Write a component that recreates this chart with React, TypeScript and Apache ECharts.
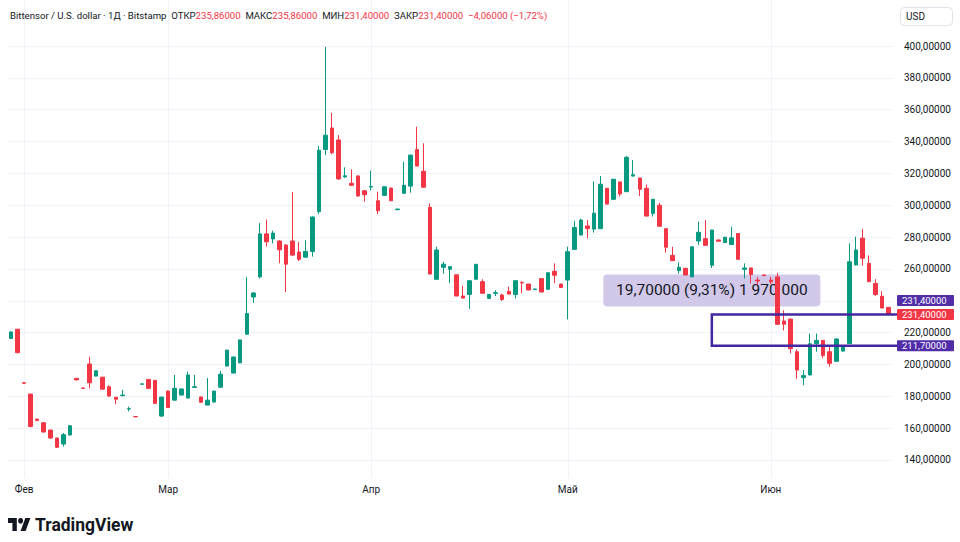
import React, { useEffect, useRef } from "react";
import * as echarts from "echarts";

const UP = "#089981";
const DOWN = "#f23645";
const TEXT = "#131722";
const GRID = "#f0f3fa";
const PURPLE = "#4527a0";
const TAG_PURPLE = "#512da8";
const FONT = "Roboto, 'Noto Sans', sans-serif";

// Candles: [open, close, low, high]
const JAN_FEB: number[][] = [
  [216.3, 220.4, 216, 220.8],
  [222.1, 207.4, 207, 222.4],
  [188.5, 188.2, 188, 188.6],
  [181.4, 161, 160.5, 181.6],
  [165.7, 164.8, 164.5, 165.9],
  [163.4, 157.6, 157.3, 163.6],
  [158.8, 153.8, 153.5, 159],
  [153.8, 148, 147.5, 154],
  [150, 155.9, 148.4, 157],
  [155.7, 161.5, 155.5, 161.8],
  [191.3, 190.3, 190.1, 191.4],
  [185.2, 185, 184.9, 185.3],
  [200.3, 188.5, 185, 204.9],
  [192.7, 196, 192.5, 196.2],
  [192, 184.5, 184.3, 192.2],
  [186, 180.2, 179.6, 186.9],
  [179.4, 178.2, 175, 179.6],
  [180.4, 180.8, 180, 184],
  [172, 172.2, 170.5, 173.5],
  [167.3, 167.1, 167, 167.4],
  [187.6, 187.8, 187.5, 187.9],
  [190.6, 185, 184.8, 190.8],
  [190, 175.6, 175.3, 190.2],
  [167.6, 179.5, 167, 179.7],
];
const MARCH: number[][] = [
  [183.3, 173, 172.8, 183.5],
  [177.6, 185, 177.4, 193.4],
  [180.8, 184.6, 180.6, 184.8],
  [178.9, 193.4, 178.7, 195.5],
  [185.6, 186, 185.4, 193.4],
  [179.6, 176.3, 176.1, 179.8],
  [174.5, 177.6, 174.3, 191.5],
  [176.4, 183.3, 176.2, 183.5],
  [185.7, 193.9, 185.5, 196],
  [199, 209, 198.8, 209.2],
  [194.6, 204.7, 194.4, 204.9],
  [201, 215.4, 200.8, 215.6],
  [219, 232, 218.8, 255],
  [242.4, 244.9, 238.6, 245.5],
  [255, 282, 254, 288.8],
  [282, 277, 274, 291],
  [278.8, 282.5, 276, 284],
  [277.5, 272, 263.6, 278],
  [275, 263, 245.5, 275.5],
  [277.5, 268.7, 268, 308.3],
  [270.6, 266, 265, 277],
  [267.4, 271, 267, 278],
  [271, 292.6, 267.7, 293],
  [296, 334.6, 294.5, 337.2],
  [335, 344, 331.5, 399.4],
  [348.5, 333, 332, 358],
  [341, 316.5, 316, 344],
  [317.8, 318.5, 317.3, 323.8],
  [313.8, 312.5, 312.3, 322.5],
  [318.4, 305.8, 305.5, 318.8],
  [309.1, 306.6, 302.2, 309.3],
];
const APRIL: number[][] = [
  [311.4, 311.8, 309.4, 321.7],
  [302.8, 296.6, 294.5, 308.5],
  [306.2, 311.6, 306, 311.8],
  [310.8, 302.8, 302.6, 311],
  [297.2, 297.6, 297, 297.8],
  [307.5, 312.5, 307.3, 327.3],
  [312, 331.5, 307.9, 331.7],
  [335, 324.6, 324.4, 349.3],
  [321.3, 311.3, 311.1, 338.9],
  [298.7, 256.8, 256.6, 301.2],
  [253.5, 271.9, 253.3, 274],
  [261, 263, 257, 264.5],
  [259.8, 261.4, 251, 261.6],
  [256.3, 243, 242.8, 256.5],
  [243, 241.7, 241.5, 249.3],
  [244, 252.6, 235, 252.8],
  [253.5, 262.9, 253.3, 263.1],
  [252, 244.7, 244.5, 253.5],
  [241.5, 244, 241.3, 244.2],
  [244.7, 245.1, 242.9, 246.6],
  [243.6, 240.8, 239.8, 244.5],
  [245.9, 244.2, 244, 248.9],
  [244, 252.6, 241.5, 252.8],
  [251.6, 251.2, 244.7, 252],
  [250.5, 246.8, 246.6, 250.7],
  [247, 247.4, 246.8, 247.6],
  [253.9, 245.5, 245.3, 254.1],
  [247.2, 257.6, 247, 257.8],
  [258.5, 256, 251, 263.5],
  [250.5, 248.4, 248.2, 250.7],
];
const MAY: number[][] = [
  [253, 270.8, 228.3, 274],
  [272.3, 286, 272, 290.3],
  [281.3, 290.7, 281, 291.5],
  [287, 285.3, 279.2, 290.7],
  [285, 295, 282.8, 315],
  [285.3, 313.2, 285, 318.4],
  [310.6, 300.7, 300.5, 310.8],
  [303.7, 316.3, 303.5, 316.5],
  [314.6, 307.1, 305.5, 314.8],
  [308.5, 330.1, 308.3, 330.9],
  [318.3, 319.2, 318, 328.4],
  [317.1, 310, 305.8, 317.3],
  [310.6, 293.2, 293, 313],
  [294.9, 303.7, 292.9, 303.9],
  [300, 286.8, 286.6, 301.5],
  [285.3, 273.6, 270.2, 285.5],
  [268.5, 265.2, 265, 273.9],
  [258.9, 261, 257, 264],
  [260.4, 256.2, 256, 260.6],
  [255, 273.9, 254.8, 274.1],
  [277.5, 283, 275, 289.7],
  [279, 274.8, 274.6, 290.7],
  [262.3, 284.4, 260.6, 284.6],
  [278.2, 277.4, 277.2, 278.4],
  [276.6, 279.9, 276.4, 280.1],
  [275.3, 279.5, 275.1, 286.5],
  [282.2, 266, 265.8, 282.4],
  [259.8, 260.6, 254, 263.5],
  [260.6, 256.4, 250.9, 260.8],
  [253, 252.4, 250, 255],
  [256.2, 255.8, 255.6, 256.4],
];
const JUNE: number[][] = [
  [253, 252, 250.5, 255],
  [255, 225.2, 225, 257.5],
  [227.3, 225.2, 221.4, 234],
  [228.5, 209.9, 206.9, 228.7],
  [208, 196.5, 191, 209.5],
  [191.7, 193, 187, 196.5],
  [193.4, 213, 193.2, 219.4],
  [213, 215.1, 208, 219.4],
  [215.1, 205.7, 204, 215.3],
  [208, 200.7, 198.6, 212],
  [202, 216, 201.8, 216.5],
  [208.4, 211.1, 208.2, 211.3],
  [213.1, 264.5, 212.9, 276],
  [262.5, 271.9, 262.3, 280.2],
  [279.3, 266.7, 262, 285.2],
  [263.5, 252, 251.8, 268.5],
  [250.9, 244, 243, 253.5],
  [242.8, 235.46, 235.3, 246],
  [235.86, 231.4, 231.4, 235.86],
];

// Dates (Bitstamp has no bars on some February days)
const JAN_DAYS = [30, 31];
const FEB_DAYS = [1, 2, 3, 4, 5, 6, 7, 8, 10, 11, 13, 14, 15, 16, 17, 19, 20, 22, 23, 25, 26, 28];
const MONTH_NAMES: Record<string, string> = { "02": "Фев", "03": "Мар", "04": "Апр", "05": "Май", "06": "Июн" };

// Price range drawing
const RANGE_START = "2025-05-23";
const RANGE_LOW = 211.7;
const RANGE_HIGH = 231.4;
const TICK_SIZE = 0.00001;

const Y_MIN = 120;
const Y_MAX = 420;
const Y_STEP = 20;
const LABEL_MIN = 140;
const LABEL_MAX = 400;

const pad = (n: number) => String(n).padStart(2, "0");
const categories: string[] = [
  ...JAN_DAYS.map((d) => `2025-01-${pad(d)}`),
  ...FEB_DAYS.map((d) => `2025-02-${pad(d)}`),
  ...MARCH.map((_, i) => `2025-03-${pad(i + 1)}`),
  ...APRIL.map((_, i) => `2025-04-${pad(i + 1)}`),
  ...MAY.map((_, i) => `2025-05-${pad(i + 1)}`),
  ...JUNE.map((_, i) => `2025-06-${pad(i + 1)}`),
];
const candles = [...JAN_FEB, ...MARCH, ...APRIL, ...MAY, ...JUNE];

const monthStarts: number[] = categories
  .map((c, i) => (i > 0 && c.slice(5, 7) !== categories[i - 1].slice(5, 7) ? i : -1))
  .filter((i) => i >= 0);

const fmt = (v: number) => v.toFixed(5).replace(".", ",");
const fmtSigned = (v: number) => (v < 0 ? "\u2212" : "") + fmt(Math.abs(v));
const groupInt = (n: number) => String(Math.round(n)).replace(/\B(?=(\d{3})+(?!\d))/g, " ");

export default function App() {
  const ref = useRef<HTMLDivElement>(null);

  useEffect(() => {
    const el = ref.current;
    if (!el) return;
    const chart = echarts.init(el, undefined, { renderer: "svg" });

    const PX_PER_UNIT = 1.5923;
    const gridTop = 46 - (Y_MAX - 400) * PX_PER_UNIT;
    const gridBottom = 460 + (140 - Y_MIN) * PX_PER_UNIT;
    const paneBottom = 478;

    let hiddenValues: number[] = [];

    chart.setOption({
      animation: false,
      backgroundColor: "#ffffff",
      grid: { left: 7.7, top: gridTop, width: 884.25, height: gridBottom - gridTop },
      xAxis: {
        type: "category",
        data: categories,
        boundaryGap: true,
        offset: -(gridBottom - paneBottom),
        axisLine: { show: false },
        axisTick: { show: false },
        splitLine: { show: false },
        axisLabel: {
          interval: (i: number) => monthStarts.includes(i),
          formatter: (v: string) => MONTH_NAMES[v.slice(5, 7)] || "",
          color: TEXT,
          fontSize: 10,
          fontFamily: FONT,
          margin: 6,
        },
      },
      yAxis: {
        type: "value",
        position: "right",
        min: Y_MIN,
        max: Y_MAX,
        interval: Y_STEP,
        axisLine: { show: false },
        axisTick: { show: false },
        axisLabel: {
          showMinLabel: false,
          showMaxLabel: false,
          margin: 12,
          color: TEXT,
          fontSize: 10,
          fontFamily: FONT,
          formatter: (v: number) => (v < LABEL_MIN || v > LABEL_MAX || hiddenValues.includes(v) ? "" : fmt(v)),
        },
        splitLine: { show: true, showMinLine: false, showMaxLine: false, lineStyle: { color: GRID, width: 1 } },
      },
      series: [
        {
          type: "candlestick",
          data: candles,
          barWidth: 4,
          z: 3,
          itemStyle: {
            color: UP,
            color0: DOWN,
            borderColor: UP,
            borderColor0: DOWN,
            borderWidth: 1,
          },
        },
      ],
    });

    const px = (idx: number, v: number) => chart.convertToPixel({ gridIndex: 0 }, [idx, v]) as number[];

    const lastIdx = candles.length - 1;
    const last = candles[lastIdx];
    const prevClose = candles[lastIdx - 1][1];
    const chg = last[1] - prevClose;
    const chgPct = (chg / prevClose) * 100;

    const yClose = px(lastIdx, last[1])[1];
    const yHigh = px(lastIdx, RANGE_HIGH)[1];
    const yLow = px(lastIdx, RANGE_LOW)[1];
    const xStart = px(categories.indexOf(RANGE_START), RANGE_HIGH)[0];
    const xRight = 897;
    const tagYs = [yClose - 14, yClose, yLow];

    // axis labels that are covered by the price tags
    const tickVals: number[] = [];
    for (let v = LABEL_MIN; v <= LABEL_MAX; v += Y_STEP) tickVals.push(v);
    hiddenValues = tickVals.filter((v) => tagYs.some((ty) => Math.abs(px(0, v)[1] - ty) < 9));

    const diff = RANGE_HIGH - RANGE_LOW;
    const pct = (diff / RANGE_LOW) * 100;
    const rangeLabel = `${fmt(diff)} (${pct.toFixed(2).replace(".", ",")}%) ${groupInt(diff / TICK_SIZE)}`;

    const vGrid = monthStarts.map((i) => {
      const x = Math.round(px(i, 200)[0]) + 0.5;
      return { type: "line", z: 0, silent: true, shape: { x1: x, y1: 0, x2: x, y2: paneBottom }, style: { stroke: GRID, lineWidth: 1 } };
    });

    const tag = (y: number, text: string, fill: string) => ({
      type: "group",
      z: 50,
      children: [
        { type: "rect", z: 50, shape: { x: xRight, y: y - 5.5, width: 57, height: 11, r: 1 }, style: { fill } },
        {
          type: "text",
          z: 51,
          x: xRight + 5,
          y: y,
          style: { text, fill: "#ffffff", fontSize: 9.5, lineHeight: 10, fontFamily: FONT, verticalAlign: "middle", align: "left" },
        },
      ],
    });

    const boxW = 217;
    const boxH = 32;
    const boxBottom = yHigh - 8;

    const header =
      `{n|Bittensor / U.S. dollar · 1Д · Bitstamp}  ` +
      `{n|ОТКР}{r|${fmt(last[0])}}  {n|МАКС}{r|${fmt(last[3])}}  {n|МИН}{r|${fmt(last[2])}}  ` +
      `{n|ЗАКР}{r|${fmt(last[1])}}  {r|${fmtSigned(chg)} (${chgPct < 0 ? "\u2212" : ""}${Math.abs(chgPct).toFixed(2).replace(".", ",")}%)}`;

    chart.setOption({
      yAxis: {
        axisLabel: {
          formatter: (v: number) => (v < LABEL_MIN || v > LABEL_MAX || hiddenValues.includes(v) ? "" : fmt(v)),
        },
      },
      graphic: {
        elements: [
          ...vGrid,
          {
            type: "rect",
            z: 1,
            silent: true,
            shape: { x: xStart - boxW / 2, y: boxBottom - boxH, width: boxW, height: boxH, r: 4 },
            style: { fill: "#d1c8ea" },
          },
          {
            type: "text",
            z: 2,
            silent: true,
            x: xStart,
            y: boxBottom - boxH / 2,
            style: { text: rangeLabel, fill: TEXT, fontSize: 15.5, fontFamily: FONT, align: "center", verticalAlign: "middle" },
          },
          {
            type: "polyline",
            z: 20,
            silent: true,
            shape: { points: [[xRight, yHigh], [xStart, yHigh], [xStart, yLow], [xRight, yLow]] },
            style: { stroke: PURPLE, lineWidth: 2.5, fill: "none" },
          },
          tag(tagYs[0], fmt(RANGE_HIGH), TAG_PURPLE),
          tag(tagYs[1], fmt(last[1]), DOWN),
          tag(tagYs[2], fmt(RANGE_LOW), TAG_PURPLE),
          {
            type: "rect",
            z: 10,
            shape: { x: 900.5, y: 7.5, width: 52, height: 18, r: 4 },
            style: { fill: "#ffffff", stroke: "#e0e3eb", lineWidth: 1 },
          },
          {
            type: "text",
            z: 11,
            x: 906,
            y: 16.5,
            style: { text: "USD", fill: TEXT, fontSize: 10, fontFamily: FONT, verticalAlign: "middle" },
          },
          {
            type: "text",
            z: 11,
            x: 10,
            y: 15,
            style: {
              text: header,
              fontSize: 9.6,
              fontFamily: FONT,
              verticalAlign: "middle",
              rich: {
                n: { fill: TEXT, fontSize: 9.6, fontFamily: FONT },
                r: { fill: DOWN, fontSize: 9.6, fontFamily: FONT },
              },
            },
          },
          {
            type: "group",
            x: 8,
            y: 515.1,
            scaleX: 0.63,
            scaleY: 0.72,
            children: [
              { type: "polygon", shape: { points: [[0, 4], [14, 4], [14, 22], [7, 22], [7, 11], [0, 11]] }, style: { fill: TEXT } },
              { type: "circle", shape: { cx: 20, cy: 8, r: 4 }, style: { fill: TEXT } },
              { type: "polygon", shape: { points: [[20, 22], [27.5, 4], [35.5, 4], [28, 22]] }, style: { fill: TEXT } },
            ],
          },
          {
            type: "text",
            x: 35,
            y: 525,
            style: { text: "TradingView", fill: TEXT, fontSize: 17.5, fontWeight: "bold", fontFamily: FONT, verticalAlign: "middle" },
          },
        ],
      },
    });

    return () => chart.dispose();
  }, []);

  return (
    <div
      ref={ref}
      style={{ position: "fixed", left: 0, top: 0, width: 960, height: 542, background: "#ffffff" }}
    />
  );
}
